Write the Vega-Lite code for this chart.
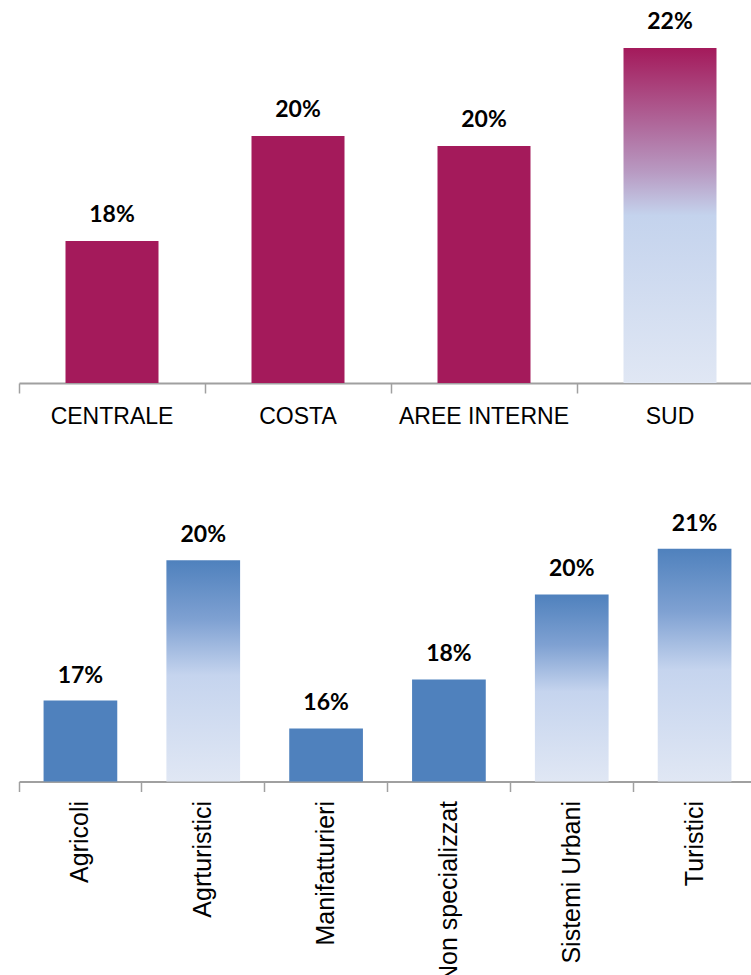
{
  "$schema": "https://vega.github.io/schema/vega-lite/v6.json",
  "padding": {"left": 18, "top": 9, "right": 0, "bottom": 0},
  "spacing": 70,
  "config": {
    "view": {"stroke": null},
    "axisX": {
      "domainColor": "#a0a0a0", "domainWidth": 2, "tickColor": "#a0a0a0", "tickWidth": 1.5,
      "tickSize": 10, "labelColor": "#000000", "labelFont": "Liberation Sans",
      "title": null, "grid": false
    }
  },
  "vconcat": [
    {
      "width": 744, "height": 374,
      "data": {"values": [
        {"cat": "CENTRALE", "value": 0.1794},
        {"cat": "COSTA", "value": 0.2012},
        {"cat": "AREE INTERNE", "value": 0.1991},
        {"cat": "SUD", "value": 0.2194}
      ]},
      "encoding": {
        "x": {"field": "cat", "type": "nominal", "sort": ["CENTRALE", "COSTA", "AREE INTERNE", "SUD"],
              "scale": {"paddingInner": 0.5, "paddingOuter": 0.25},
              "axis": {"labelAngle": 0, "labelFontSize": 23, "labelPadding": 12, "bandPosition": -0.5}},
        "y": {"field": "value", "type": "quantitative",
              "scale": {"domain": [0.15, 0.2275], "nice": false, "zero": false}, "axis": null}
      },
      "layer": [
        {"transform": [{"filter": "datum.cat !== 'SUD'"}],
         "mark": {"type": "bar", "color": "#A41A5B"},
         "encoding": {"y2": {"datum": 0.15}}},
        {"transform": [{"filter": "datum.cat === 'SUD'"}],
         "mark": {"type": "bar", "color": {"gradient": "linear", "x1": 0, "y1": 0, "x2": 0, "y2": 1,
           "stops": [
             {"offset": 0, "color": "#A41A5B"},
             {"offset": 0.24, "color": "#B06C9E"},
             {"offset": 0.37, "color": "#B89AC2"},
             {"offset": 0.5, "color": "#C4D3ED"},
             {"offset": 1, "color": "#E0E7F4"}]}},
         "encoding": {"y2": {"datum": 0.15}}},
        {"mark": {"type": "text", "baseline": "alphabetic", "dy": -19, "font": "Lato", "fontWeight": "bold", "fontSize": 23, "color": "#000000"},
         "encoding": {"text": {"field": "value", "type": "quantitative", "format": ".0%"}}}
      ]
    },
    {
      "width": 737, "height": 283.5,
      "data": {"values": [
        {"cat": "Agricoli", "value": 0.1700},
        {"cat": "Agrturistici", "value": 0.2046},
        {"cat": "Manifatturieri", "value": 0.1631},
        {"cat": "Non specializzat", "value": 0.1752},
        {"cat": "Sistemi Urbani", "value": 0.1962},
        {"cat": "Turistici", "value": 0.2075}
      ]},
      "encoding": {
        "x": {"field": "cat", "type": "nominal",
              "sort": ["Agricoli", "Agrturistici", "Manifatturieri", "Non specializzat", "Sistemi Urbani", "Turistici"],
              "scale": {"paddingInner": 0.4, "paddingOuter": 0.2},
              "axis": {"labelAngle": -90, "labelFontSize": 25, "labelPadding": 9, "labelLimit": 400, "bandPosition": -0.3333}},
        "y": {"field": "value", "type": "quantitative",
              "scale": {"domain": [0.15, 0.22], "nice": false, "zero": false}, "axis": null}
      },
      "layer": [
        {"transform": [{"filter": {"field": "cat", "oneOf": ["Agricoli", "Manifatturieri", "Non specializzat"]}}],
         "mark": {"type": "bar", "color": "#4F81BD"},
         "encoding": {"y2": {"datum": 0.15}}},
        {"transform": [{"filter": {"field": "cat", "oneOf": ["Agrturistici", "Sistemi Urbani", "Turistici"]}}],
         "mark": {"type": "bar", "color": {"gradient": "linear", "x1": 0, "y1": 0, "x2": 0, "y2": 1,
           "stops": [
             {"offset": 0, "color": "#4F81BD"},
             {"offset": 0.27, "color": "#7FA1D2"},
             {"offset": 0.52, "color": "#C5D4EE"},
             {"offset": 1, "color": "#E0E7F4"}]}},
         "encoding": {"y2": {"datum": 0.15}}},
        {"mark": {"type": "text", "baseline": "alphabetic", "dy": -18, "font": "Lato", "fontWeight": "bold", "fontSize": 23, "color": "#000000"},
         "encoding": {"text": {"field": "value", "type": "quantitative", "format": ".0%"}}}
      ]
    }
  ]
}
